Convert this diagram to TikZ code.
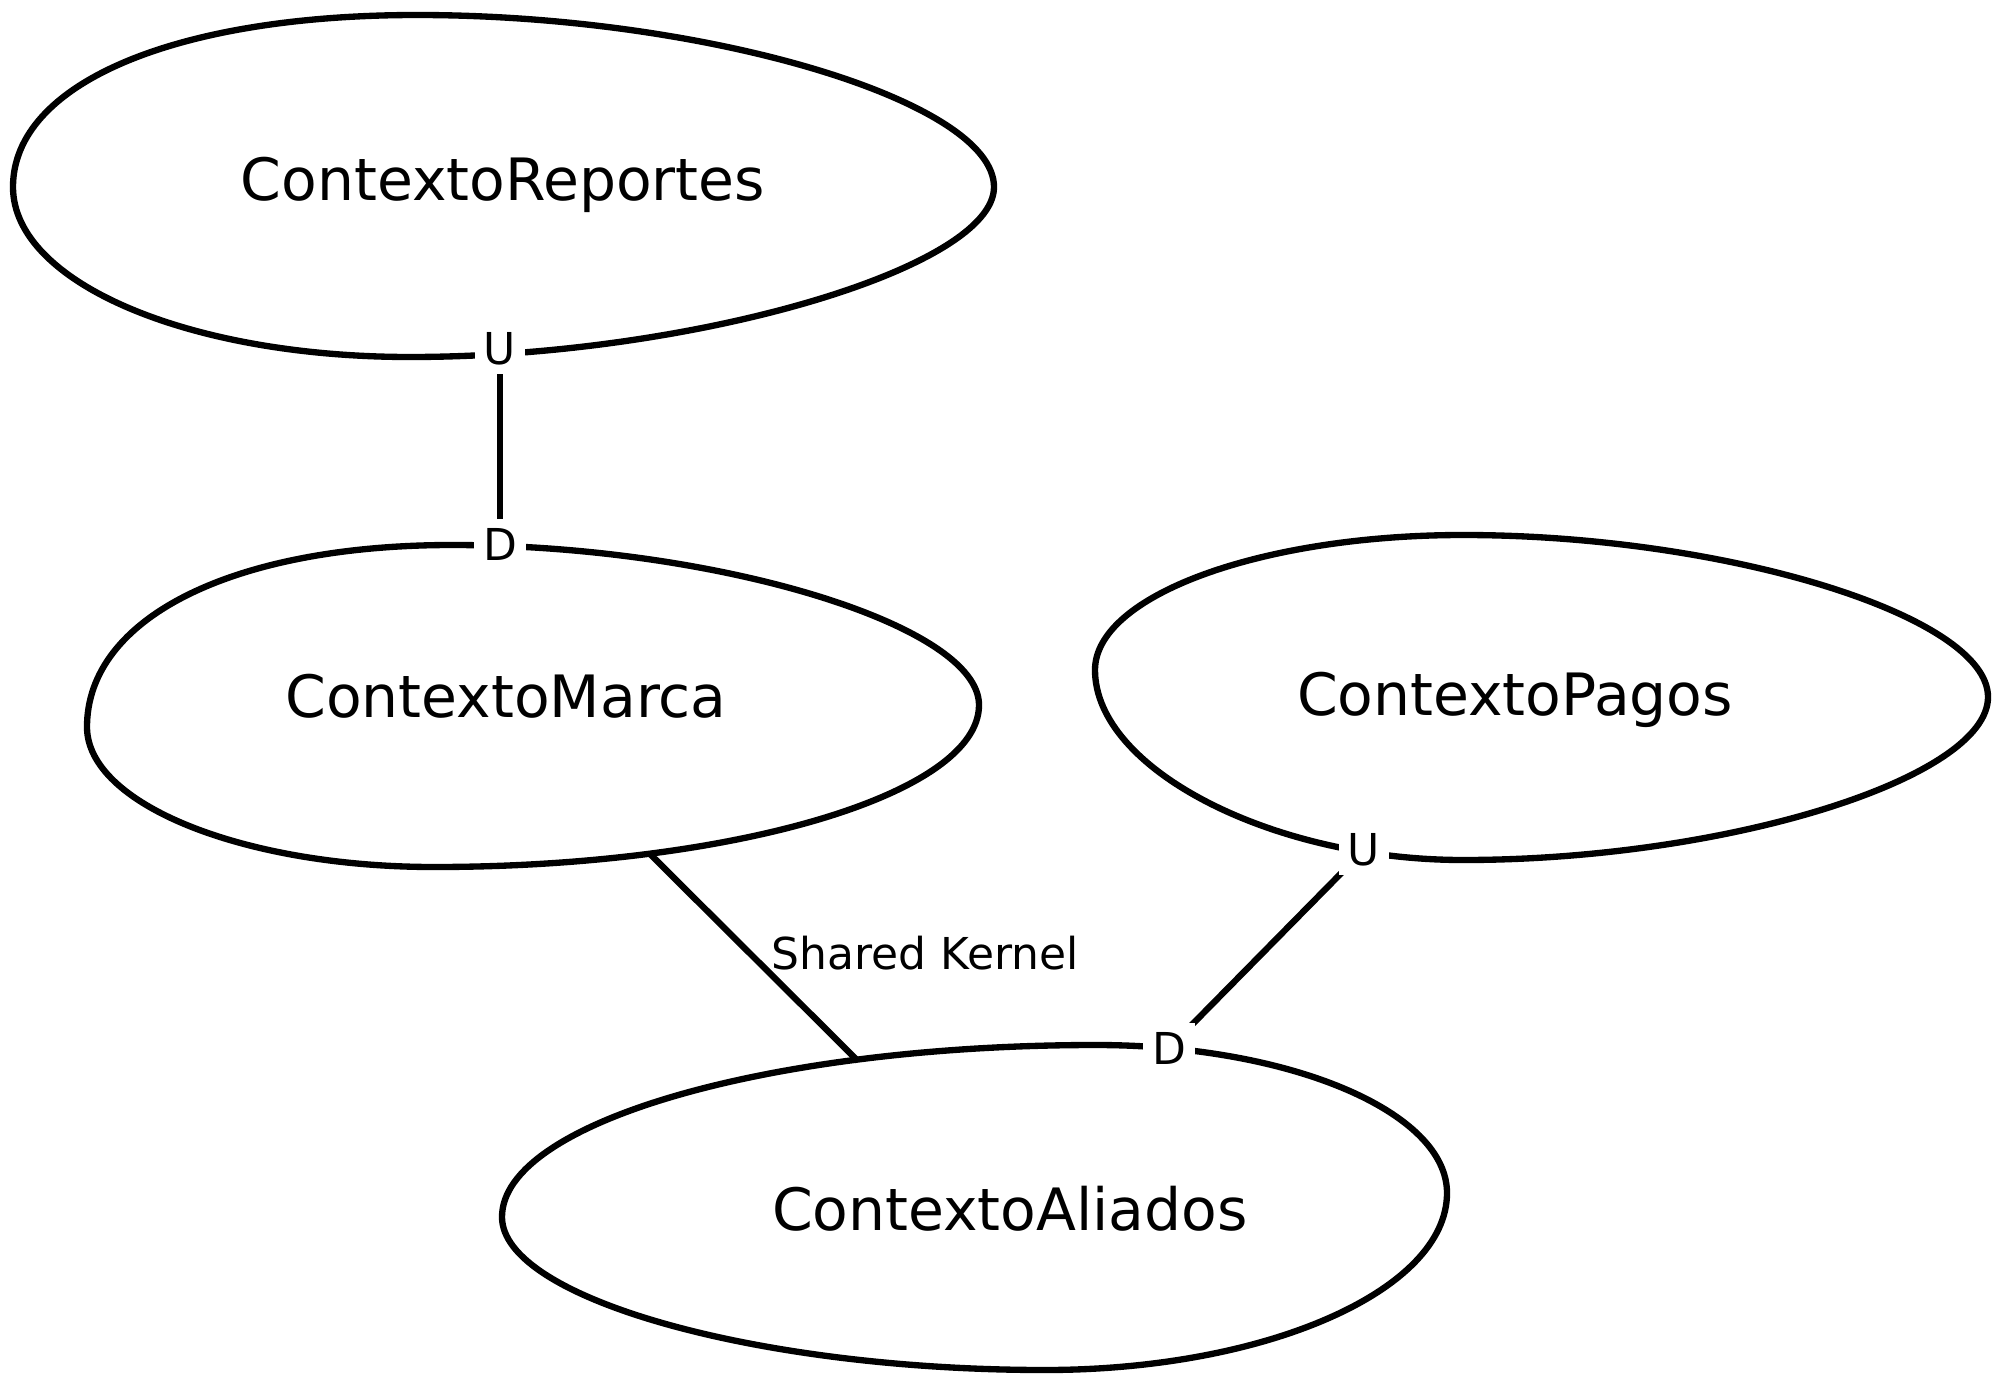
\documentclass[tikz,border=0pt]{standalone}
\usepackage{fontspec}
\setmainfont{DejaVu Sans}
\usetikzlibrary{backgrounds,calc}
\tikzset{
  ctxline/.style={line width=1.8pt, black},
  ctxname/.style={anchor=base, inner sep=0pt, font=\fontsize{16.6}{20}\selectfont},
  rolelabel/.style={fill=white, inner sep=2.5pt, font=\fontsize{12.5}{15}\selectfont},
  edgelabel/.style={inner sep=0pt, font=\fontsize{12.5}{15}\selectfont}
}
% #1..#4: left, top, right, bottom extreme points; #5..#8: fullness of the
% top-left, top-right, bottom-right and bottom-left quarters
\newcommand\ctxegg[8]{%
  \draw[ctxline] (#1) .. controls ($(#1)!#5!(#1|-#2)$) and ($(#2)!#5!(#1|-#2)$) .. (#2)
    .. controls ($(#2)!#6!(#3|-#2)$) and ($(#3)!#6!(#3|-#2)$) .. (#3)
    .. controls ($(#3)!#7!(#3|-#4)$) and ($(#4)!#7!(#3|-#4)$) .. (#4)
    .. controls ($(#4)!#8!(#1|-#4)$) and ($(#1)!#8!(#1|-#4)$) .. cycle;}
\begin{document}
\begin{tikzpicture}[x=0.01cm, y=-0.01cm]
\useasboundingbox (0,0) rectangle (2000,1400);

% context names
\node[ctxname] (reportes) at (503,200) {ContextoReportes};
\node[ctxname] (marca) at (506,717) {ContextoMarca};
\node[ctxname] (pagos) at (1515,715) {ContextoPagos};
\node[ctxname] (aliados) at (1010,1230) {ContextoAliados};

% role labels on the boundaries
\node[rolelabel] (u1) at (500,349) {U};
\node[rolelabel] (d1) at (500,544) {D};
\node[rolelabel] (u2) at (1364,850) {U};
\node[rolelabel] (d2) at (1169,1048) {D};

\node[edgelabel] (sk) at (925,953) {Shared Kernel};

\coordinate (skA) at (650,854);
\coordinate (skB) at (858,1061);

% extreme points of the context outlines
\coordinate (rL) at (13,187);   \coordinate (rT) at (417,15);
\coordinate (rR) at (994,187);  \coordinate (rB) at (410,357);
\coordinate (mL) at (87,727);   \coordinate (mT) at (452,545);
\coordinate (mR) at (979,705);  \coordinate (mB) at (434,867);
\coordinate (pL) at (1095,670); \coordinate (pT) at (1463,535);
\coordinate (pR) at (1988,697); \coordinate (pB) at (1463,860);
\coordinate (aL) at (502,1217); \coordinate (aT) at (1096,1045);
\coordinate (aR) at (1447,1193);\coordinate (aB) at (1045,1370);

\begin{pgfonlayer}{background}
\ctxegg{rL}{rT}{rR}{rB}{0.6}{0.5}{0.48}{0.56}
\ctxegg{mL}{mT}{mR}{mB}{0.6}{0.5}{0.55}{0.55}
\ctxegg{pL}{pT}{pR}{pB}{0.55}{0.5}{0.5}{0.52}
\ctxegg{aL}{aT}{aR}{aB}{0.55}{0.55}{0.55}{0.53}

% connectors
\draw[ctxline] (u1.center) -- (d1.center);
\draw[ctxline] (u2.center) -- (d2.center);
\draw[ctxline] (skA) -- (skB);
\end{pgfonlayer}
\end{tikzpicture}
\end{document}
